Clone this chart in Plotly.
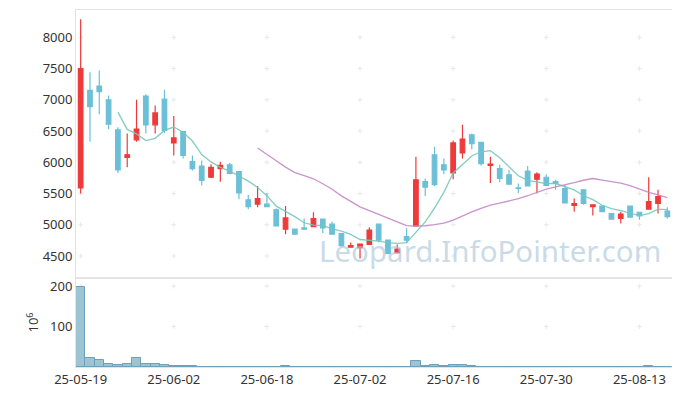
import plotly.graph_objects as go
from plotly.subplots import make_subplots

dates = [
    "25-05-19", "25-05-20", "25-05-21", "25-05-22", "25-05-23", "25-05-26", "25-05-27", "25-05-28",
    "25-05-29", "25-05-30", "25-06-02", "25-06-04", "25-06-05", "25-06-09", "25-06-10", "25-06-11",
    "25-06-12", "25-06-13", "25-06-16", "25-06-17", "25-06-18", "25-06-19", "25-06-20", "25-06-23",
    "25-06-24", "25-06-25", "25-06-26", "25-06-27", "25-06-30", "25-07-01", "25-07-02", "25-07-03",
    "25-07-04", "25-07-07", "25-07-08", "25-07-09", "25-07-10", "25-07-11", "25-07-14", "25-07-15",
    "25-07-16", "25-07-17", "25-07-18", "25-07-21", "25-07-22", "25-07-23", "25-07-24", "25-07-25",
    "25-07-28", "25-07-29", "25-07-30", "25-07-31", "25-08-01", "25-08-04", "25-08-05", "25-08-06",
    "25-08-07", "25-08-08", "25-08-11", "25-08-12", "25-08-13", "25-08-14", "25-08-18", "25-08-19",
]
opens = [5590, 7150, 7220, 7000, 6520, 6080, 6360, 7060, 6600, 7010,
         6310, 6490, 6010, 5940, 5760, 5900, 5960, 5850, 5400, 5330,
         5330, 5240, 4930, 4930, 4950, 4970, 5090, 5010, 4860, 4640,
         4635, 4685, 5010, 4755, 4555, 4810, 4980, 5690, 6120, 5960,
         5830, 6150, 6440, 6320, 5950, 5900, 5800, 5590, 5860, 5730,
         5760, 5690, 5580, 5310, 5560, 5290, 5300, 5180, 5100, 5300,
         5200, 5250, 5340, 5220]
highs = [8290, 7440, 7470, 7070, 6560, 6460, 7000, 7090, 6910, 7160,
         6740, 6490, 6110, 6030, 5970, 6010, 5990, 5860, 5480, 5620,
         5510, 5260, 5300, 4940, 5100, 5200, 5090, 5050, 4860, 4715,
         4695, 4960, 5010, 4755, 4685, 4945, 6090, 5740, 6250, 6060,
         6350, 6600, 6460, 6320, 6090, 5960, 5880, 5660, 5940, 5840,
         5810, 5720, 5640, 5420, 5560, 5320, 5300, 5180, 5210, 5300,
         5200, 5760, 5560, 5280]
lows = [5500, 6330, 6770, 6530, 5830, 5920, 6330, 6460, 6460, 6470,
        6110, 6060, 5870, 5630, 5750, 5690, 5810, 5410, 5250, 5280,
        5280, 4980, 4850, 4850, 4920, 4970, 4870, 4850, 4650, 4640,
        4460, 4685, 4720, 4530, 4540, 4705, 4970, 5460, 5620, 5810,
        5730, 6060, 6210, 5950, 5670, 5680, 5650, 5510, 5620, 5500,
        5630, 5560, 5350, 5210, 5320, 5150, 5210, 5080, 5020, 5120,
        5080, 5240, 5180, 5100]
closes = [7500, 6890, 7130, 6610, 5880, 6120, 6530, 6600, 6790, 6510,
          6390, 6110, 5900, 5710, 5920, 5950, 5820, 5510, 5290, 5420,
          5290, 4980, 5110, 4850, 4930, 5100, 4950, 4850, 4665, 4665,
          4690, 4915, 4755, 4540, 4610, 4755, 5720, 5600, 5640, 5880,
          6310, 6370, 6300, 5980, 5970, 5740, 5650, 5580, 5620, 5810,
          5630, 5660, 5350, 5340, 5340, 5320, 5210, 5090, 5170, 5120,
          5140, 5370, 5450, 5130]
volumes_m = [199, 21.5, 16.5, 6.7, 4.2, 6.7, 21.5, 6.7, 6.7, 4.2,
             1.7, 1.7, 1.7, 0.8, 0.8, 0.8, 0.8, 0.8, 0.8, 0.8,
             0.8, 0.8, 1.7, 0.6, 0.6, 0.6, 0.6, 0.6, 0.6, 0.6,
             0.6, 0.6, 0.6, 0.6, 0.6, 0.6, 14.8, 1.7, 4.2, 1.7,
             4.2, 4.2, 1.7, 0.6, 0.6, 0.6, 0.6, 0.6, 0.6, 0.6,
             0.6, 0.6, 0.6, 0.6, 0.6, 0.6, 0.6, 0.6, 0.6, 0.6,
             0.6, 1.7, 0.8, 0.5]
x_ticks = ["25-05-19", "25-06-02", "25-06-18", "25-07-02", "25-07-16", "25-07-30", "25-08-13"]
price_ticks = [4500, 5000, 5500, 6000, 6500, 7000, 7500, 8000]
volume_ticks = [100, 200]


def moving_average(values, n):
    out = []
    for i in range(len(values)):
        if i < n - 1:
            out.append(None)
        else:
            out.append(sum(values[i - n + 1:i + 1]) / n)
    return out


ma5 = moving_average(closes, 5)
ma20 = moving_average(closes, 20)

UP = "#ee3a3a"
DOWN = "#6bc0d8"
FONT = "Noto Sans"

fig = make_subplots(rows=2, cols=1, shared_xaxes=True, vertical_spacing=0,
                    row_heights=[0.7507, 0.2493])

fig.add_trace(go.Candlestick(
    x=dates, open=opens, high=highs, low=lows, close=closes,
    increasing=dict(line=dict(color=UP, width=1.2), fillcolor=UP),
    decreasing=dict(line=dict(color=DOWN, width=1.2), fillcolor=DOWN),
    whiskerwidth=0, showlegend=False), row=1, col=1)

fig.add_trace(go.Scatter(x=dates, y=ma5, mode="lines", showlegend=False,
                         line=dict(color="rgba(118,200,184,0.9)", width=1.3)), row=1, col=1)
fig.add_trace(go.Scatter(x=dates, y=ma20, mode="lines", showlegend=False,
                         line=dict(color="rgba(196,136,196,0.9)", width=1.3)), row=1, col=1)

fig.add_trace(go.Bar(x=dates, y=volumes_m, showlegend=False,
                     marker=dict(color="#9dc4d3", line=dict(color="#6e9fb8", width=1))),
              row=2, col=1)

# faint "+" marks at tick intersections, drawn below the data
cross_path = "M-2.5,0 L2.5,0 M0,-2.5 L0,2.5"
for d in x_ticks:
    for p in price_ticks:
        fig.add_shape(type="path", path=cross_path, xref="x", yref="y",
                      xsizemode="pixel", ysizemode="pixel", xanchor=d, yanchor=p,
                      layer="below", line=dict(color="#e9e9e9", width=1))
    for v in volume_ticks:
        fig.add_shape(type="path", path=cross_path, xref="x2", yref="y2",
                      xsizemode="pixel", ysizemode="pixel", xanchor=d, yanchor=v,
                      layer="below", line=dict(color="#e9e9e9", width=1))

fig.update_layout(
    width=672, height=388,
    margin=dict(l=68, r=8, t=2, b=29),
    paper_bgcolor="white", plot_bgcolor="white",
    bargap=0,
    font=dict(family=FONT, size=13, color="#333333"),
    showlegend=False,
)
fig.update_xaxes(type="category", categoryorder="array", categoryarray=dates,
                 range=[-0.5, len(dates) - 0.5], showgrid=False, zeroline=False,
                 showline=True, linecolor="#e3e3e3", linewidth=1, mirror=True,
                 rangeslider=dict(visible=False), ticks="")
fig.update_xaxes(showticklabels=False, row=1, col=1)
fig.update_xaxes(tickvals=x_ticks, ticktext=x_ticks, showticklabels=True,
                 tickfont=dict(size=13, color="#333333"), row=2, col=1)
fig.update_yaxes(range=[4148, 8437], tickvals=price_ticks, showgrid=False, zeroline=False,
                 showline=True, linecolor="#e3e3e3", mirror=True, ticks="", row=1, col=1)
fig.update_yaxes(range=[0, 220], tickvals=volume_ticks, showgrid=False, zeroline=False,
                 showline=True, linecolor="#e3e3e3", mirror=True, ticks="",
                 title=dict(text="10<sup>6</sup>", standoff=8, font=dict(size=13)),
                 row=2, col=1)

fig.add_annotation(text="Leopard.InfoPointer.com", xref="paper", yref="paper",
                   x=0.695, y=0.326, xanchor="center", yanchor="middle", showarrow=False,
                   font=dict(family=FONT, size=29.5, color="rgba(170,198,218,0.65)"))

fig.write_html("out.html")
